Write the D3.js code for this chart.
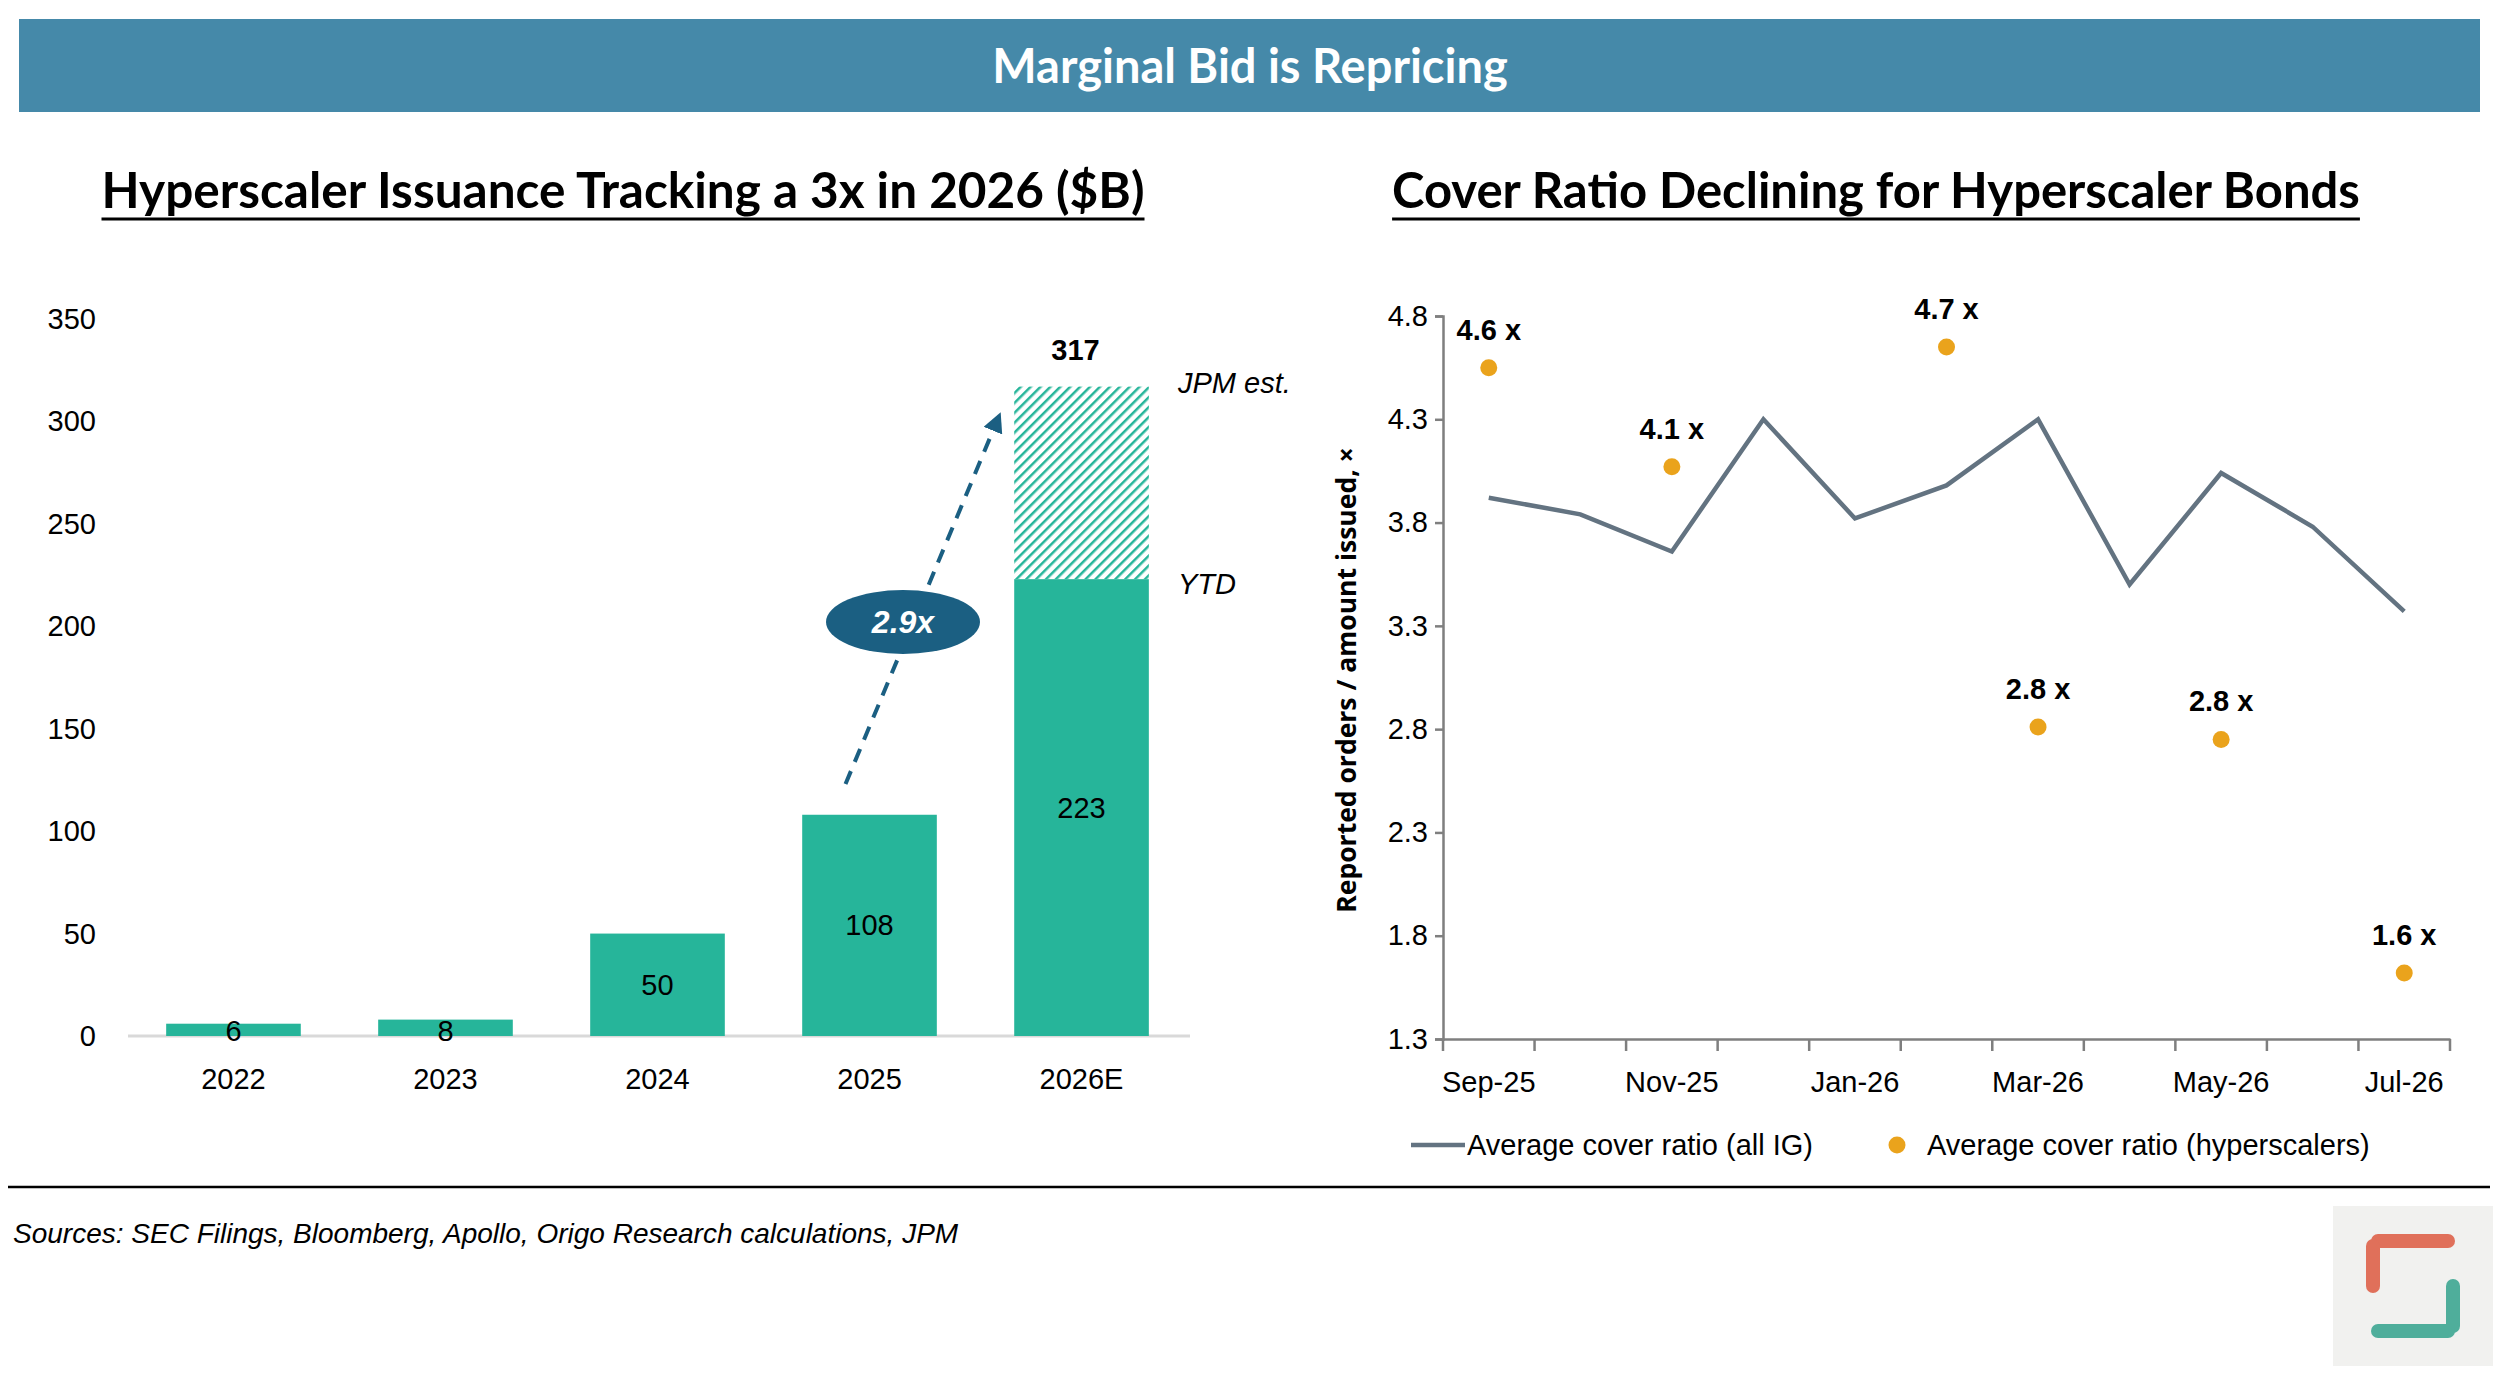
<!DOCTYPE html>
<html><head><meta charset="utf-8">
<script src="https://cdn.jsdelivr.net/npm/d3@7"></script>
<style>body{margin:0;background:#fff}svg{display:block}</style>
</head><body>
<svg id="c" width="2514" height="1388"></svg>
<script>
// data
const years = ["2022", "2023", "2024", "2025", "2026E"];
const issuance = [6, 8, 50, 108, 223];
const estimate2026 = 317;
const barTicks = [0, 50, 100, 150, 200, 250, 300, 350];

const months = ["Sep-25","Oct-25","Nov-25","Dec-25","Jan-26","Feb-26","Mar-26","Apr-26","May-26","Jun-26","Jul-26"];
const monthLabels = ["Sep-25","Nov-25","Jan-26","Mar-26","May-26","Jul-26"];
const coverAllIG = [3.92, 3.84, 3.66, 4.30, 3.82, 3.98, 4.30, 3.50, 4.04, 3.78, 3.37];
const hyperMonths = ["Sep-25","Nov-25","Feb-26","Mar-26","May-26","Jul-26"];
const coverHyper = [4.55, 4.07, 4.65, 2.81, 2.75, 1.62];
const hyperLabels = ["4.6 x","4.1 x","4.7 x","2.8 x","2.8 x","1.6 x"];
const coverTicks = [1.3, 1.8, 2.3, 2.8, 3.3, 3.8, 4.3, 4.8];

const svg = d3.select("#c");
const F = "'Liberation Sans Narrow','Liberation Sans',sans-serif";
const TF = "Lato,'Open Sans',sans-serif";
const teal = "#26b59a";

// header
svg.append("rect").attr("x", 19).attr("y", 19).attr("width", 2461).attr("height", 93).attr("fill", "#4589a9");
svg.append("text").attr("x", 1250).attr("y", 83).attr("text-anchor", "middle")
    .attr("font-family", TF).attr("font-weight", "bold").attr("font-size", 47).attr("fill", "#fff")
    .text("Marginal Bid is Repricing");

function title(x, txt, size) {
    let t = svg.append("text").attr("x", x).attr("y", 208).attr("text-anchor", "middle")
        .attr("font-family", TF).attr("font-weight", "bold").attr("font-size", size).attr("fill", "#000").text(txt);
    let b = t.node().getBBox();
    svg.append("line").attr("x1", b.x).attr("x2", b.x + b.width).attr("y1", 219).attr("y2", 219)
        .attr("stroke", "#000").attr("stroke-width", 3);
}
title(623, "Hyperscaler Issuance Tracking a 3x in 2026 ($B)", 49.5);
title(1876, "Cover Ratio Declining for Hyperscaler Bonds", 49);

// left bar chart
const defs = svg.append("defs");
const pat = defs.append("pattern").attr("id", "hatch").attr("patternUnits", "userSpaceOnUse")
    .attr("width", 7).attr("height", 7).attr("patternTransform", "rotate(45)");
pat.append("rect").attr("width", 7).attr("height", 7).attr("fill", "#fff");
pat.append("rect").attr("width", 2.5).attr("height", 7).attr("fill", teal);

const xb = d3.scaleBand().domain(years).range([128, 1187]).paddingInner(0.365).paddingOuter(0.18);
const yb = d3.scaleLinear().domain([0, 350]).range([1036, 319]);

const gl = svg.append("g").attr("font-family", F);
gl.append("line").attr("x1", 128).attr("x2", 1190).attr("y1", yb(0)).attr("y2", yb(0))
    .attr("stroke", "#d9d9d9").attr("stroke-width", 3);
gl.selectAll(".yt").data(barTicks).join("text").attr("x", 96).attr("y", d => yb(d) + 10)
    .attr("text-anchor", "end").attr("font-size", 29).text(d => d);
gl.selectAll(".xt").data(years).join("text").attr("x", d => xb(d) + xb.bandwidth() / 2).attr("y", 1089)
    .attr("text-anchor", "middle").attr("font-size", 29).text(d => d);
gl.append("rect").attr("x", xb("2026E")).attr("width", xb.bandwidth())
    .attr("y", yb(estimate2026)).attr("height", yb(issuance[4]) - yb(estimate2026)).attr("fill", "url(#hatch)");
gl.selectAll(".bar").data(issuance).join("rect").attr("x", (d, i) => xb(years[i])).attr("width", xb.bandwidth())
    .attr("y", d => yb(d)).attr("height", d => yb(0) - yb(d)).attr("fill", teal);
gl.selectAll(".bl").data(issuance).join("text").attr("x", (d, i) => xb(years[i]) + xb.bandwidth() / 2)
    .attr("y", d => d < 20 ? yb(0) + 5 : (yb(d) + yb(0)) / 2 + 10)
    .attr("text-anchor", "middle").attr("font-size", 29).text(d => d);
const cx26 = xb("2026E") + xb.bandwidth() / 2;
gl.append("text").attr("x", cx26 - 6).attr("y", yb(estimate2026) - 27).attr("text-anchor", "middle")
    .attr("font-size", 29).attr("font-weight", "bold").text(estimate2026);
gl.append("text").attr("x", 1178).attr("y", yb(estimate2026) + 6).attr("font-size", 29).attr("font-style", "italic").text("JPM est.");
gl.append("text").attr("x", 1178).attr("y", yb(issuance[4]) + 15).attr("font-size", 29).attr("font-style", "italic").text("YTD");

// growth arrow
const arrowCol = "#1b5f82";
defs.append("marker").attr("id", "ah").attr("viewBox", "0 0 10 10").attr("refX", 5).attr("refY", 5)
    .attr("markerWidth", 5).attr("markerHeight", 5).attr("orient", "auto")
    .append("path").attr("d", "M0,0L10,5L0,10z").attr("fill", arrowCol);
const a0 = [xb("2025") + xb.bandwidth() / 2 - 24, yb(123)], a1 = [xb("2025") + xb.bandwidth() + 60, yb(300)];
gl.append("line").attr("x1", a0[0]).attr("y1", a0[1]).attr("x2", a1[0]).attr("y2", a1[1])
    .attr("stroke", arrowCol).attr("stroke-width", 4).attr("stroke-dasharray", "14,10").attr("marker-end", "url(#ah)");
gl.append("ellipse").attr("cx", 903).attr("cy", 622).attr("rx", 77).attr("ry", 32).attr("fill", arrowCol);
gl.append("text").attr("x", 903).attr("y", 633).attr("text-anchor", "middle").attr("fill", "#fff")
    .attr("font-size", 32).attr("font-weight", "bold").attr("font-style", "italic").text("2.9x");

// right line chart
const xr = d3.scaleBand().domain(months).range([1443, 2450]);
const yr = d3.scaleLinear().domain([1.3, 4.8]).range([1039, 316]);
const gr = svg.append("g").attr("font-family", F);
const mid = m => xr(m) + xr.bandwidth() / 2;

const yAx = gr.append("g").attr("transform", "translate(1443,0)")
    .call(d3.axisLeft(yr).tickValues(coverTicks).tickFormat(d3.format(".1f")).tickSize(8));
const xAx = gr.append("g").attr("transform", "translate(0,1039)")
    .call(d3.axisBottom(xr).tickSize(0).tickFormat(d => monthLabels.includes(d) ? d : ""));
[yAx, xAx].forEach(a => {
    a.select(".domain").attr("stroke", "#7f7f7f").attr("stroke-width", 2.5);
    a.selectAll("line").attr("stroke", "#7f7f7f").attr("stroke-width", 2.5);
    a.selectAll("text").attr("font-family", F).attr("font-size", 29).attr("fill", "#000");
});
yAx.selectAll("text").attr("dx", -4);
xAx.selectAll("text").attr("dy", 50);
xAx.selectAll(".bd").data(d3.range(months.length + 1)).join("line")
    .attr("x1", i => 1443 + i * xr.step()).attr("x2", i => 1443 + i * xr.step())
    .attr("y1", 0).attr("y2", 12).attr("stroke", "#7f7f7f").attr("stroke-width", 2.5);

gr.append("path").datum(coverAllIG)
    .attr("d", d3.line().x((d, i) => mid(months[i])).y(d => yr(d)))
    .attr("fill", "none").attr("stroke", "#637381").attr("stroke-width", 4.5);
gr.selectAll(".dot").data(coverHyper).join("circle").attr("cx", (d, i) => mid(hyperMonths[i]))
    .attr("cy", d => yr(d)).attr("r", 8.5).attr("fill", "#eaa31c");
gr.selectAll(".dl").data(coverHyper).join("text").attr("x", (d, i) => mid(hyperMonths[i]))
    .attr("y", d => yr(d) - 28).attr("text-anchor", "middle").attr("font-size", 29).attr("font-weight", "bold")
    .text((d, i) => hyperLabels[i]);
gr.append("text").attr("transform", "translate(1356,680) rotate(-90)").attr("text-anchor", "middle")
    .attr("font-family", "'Open Sans',sans-serif").attr("font-weight", "bold").attr("font-size", 26.5)
    .text("Reported orders / amount issued, ×");

// legend
gr.append("line").attr("x1", 1411).attr("x2", 1465).attr("y1", 1145).attr("y2", 1145).attr("stroke", "#637381").attr("stroke-width", 4.5);
gr.append("text").attr("x", 1467).attr("y", 1155).attr("font-size", 29).text("Average cover ratio (all IG)");
gr.append("circle").attr("cx", 1897).attr("cy", 1145).attr("r", 8.5).attr("fill", "#eaa31c");
gr.append("text").attr("x", 1927).attr("y", 1155).attr("font-size", 29).text("Average cover ratio (hyperscalers)");

// footer
svg.append("line").attr("x1", 8).attr("x2", 2490).attr("y1", 1187).attr("y2", 1187).attr("stroke", "#000").attr("stroke-width", 2.5);
svg.append("text").attr("x", 13).attr("y", 1243).attr("font-family", F).attr("font-size", 28).attr("font-style", "italic")
    .text("Sources: SEC Filings, Bloomberg, Apollo, Origo Research calculations, JPM");

// logo
const lg = svg.append("g").attr("transform", "translate(2333,1206)");
lg.append("rect").attr("width", 160).attr("height", 160).attr("fill", "#f1f1ef");
const corners = [["M45,35 L115,35", "#e0705a"], ["M40,40 L40,80", "#e0705a"], ["M120,80 L120,120", "#4fae9b"], ["M45,125 L115,125", "#4fae9b"]];
lg.selectAll("path").data(corners).join("path").attr("d", d => d[0]).attr("stroke", d => d[1])
    .attr("stroke-width", 14).attr("fill", "none").attr("stroke-linecap", "round");
</script>
</body></html>
